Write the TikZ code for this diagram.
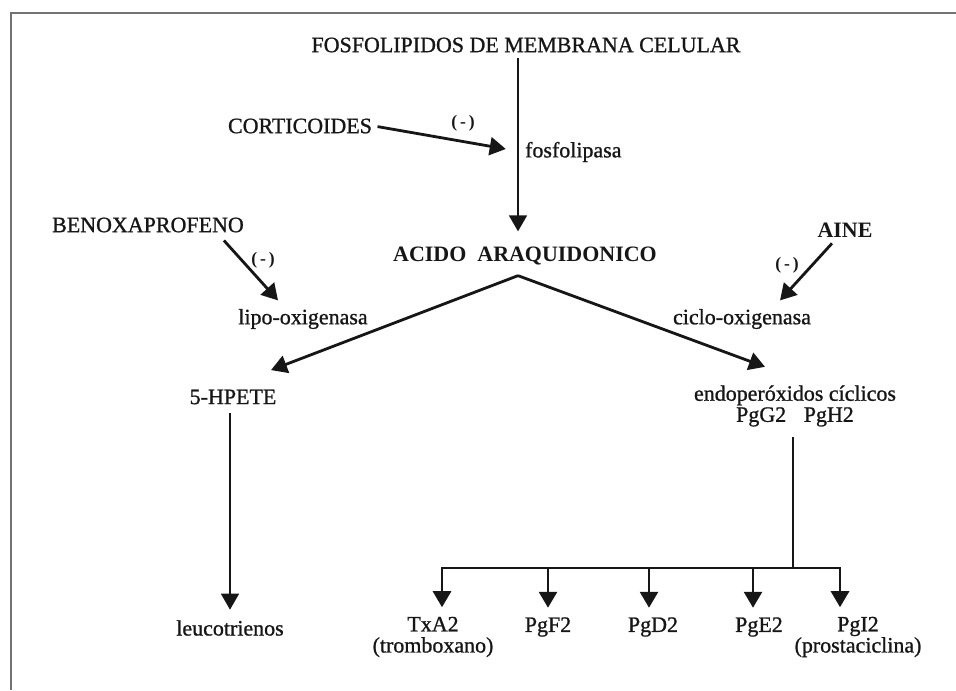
\documentclass[tikz,border=0pt]{standalone}
\usepackage{fontspec}
\setmainfont{Liberation Serif}[UprightFeatures={FakeBold=1}]
\usetikzlibrary{arrows.meta,positioning,calc}
\definecolor{AaInk}{RGB}{22,22,22}
\definecolor{AaFrame}{RGB}{115,115,115}
\tikzset{
  aa/label/.style={
    inner sep=1pt,
    align=center,
    text=AaInk,
    font=\fontsize{12.5}{12}\selectfont
  },
  aa/main/.style={
    aa/label,
    font=\fontsize{12.5}{12}\selectfont\bfseries
  },
  aa/minus/.style={inner sep=0pt, text=AaInk, font=\fontsize{10}{10}\selectfont\bfseries},
  aa/arrow/.style={-{Triangle[length=3.2mm,width=3.6mm]}, line width=1.6pt, draw=AaInk},
  aa/thinarrow/.style={-{Triangle[length=3.2mm,width=3.6mm]}, line width=1pt, draw=AaInk},
  aa/line/.style={line width=1.6pt, line cap=rect, draw=AaInk},
  aa/frame/.style={line width=1.6pt, draw=AaFrame}
}

\begin{document}
\begin{tikzpicture}[x=1cm,y=1cm]
  \useasboundingbox (0,0) rectangle (19.12,13.8);
  \draw[aa/frame] (0.22,0) -- (0.22,13.54) -- (19.12,13.54);

  % top of the cascade
  \node[aa/label] (fosfo) at (10.52,12.9) {FOSFOLIPIDOS DE MEMBRANA CELULAR};
  \node[aa/label] (corti) at (6.0,11.28) {CORTICOIDES};
  \node[aa/label,anchor=west] (fosfolipasa) at (10.46,10.76) {fosfolipasa};
  \node[aa/minus] (minus1) at (9.26,11.34) {(\,-\,)};
  \node[aa/main] (acido) at (10.5,8.68) {ACIDO\ \ ARAQUIDONICO};

  % inhibitors and enzymes
  \node[aa/label] (benox) at (2.96,9.3) {BENOXAPROFENO};
  \node[aa/main] (aine) at (16.9,9.2) {AINE};
  \node[aa/minus] (minus2) at (5.26,8.6) {(\,-\,)};
  \node[aa/minus] (minus3) at (15.74,8.5) {(\,-\,)};
  \node[aa/label] (lipo) at (6.06,7.42) {lipo-oxigenasa};
  \node[aa/label] (ciclo) at (14.84,7.42) {ciclo-oxigenasa};

  % products
  \node[aa/label] (hpete) at (4.66,5.86) {5-HPETE};
  \node[aa/label] (endo) at (15.9,5.68) {endoperóxidos cíclicos\\PgG2\hspace{0.8em}PgH2};
  \node[aa/label] (leuco) at (4.6,1.24) {leucotrienos};
  \node[aa/label] (txa) at (8.66,1.06) {TxA2\\(tromboxano)};
  \node[aa/label] (pgf) at (10.96,1.26) {PgF2};
  \node[aa/label] (pgd) at (13.06,1.26) {PgD2};
  \node[aa/label] (pge) at (15.18,1.26) {PgE2};
  \node[aa/label] (pgi) at (17.16,1.06) {PgI2\\(prostaciclina)};

  % connectors
  \coordinate (trunk) at ($(fosfo.south)+(-0.16,0)$);
  \draw[aa/thinarrow, shorten <=2pt, shorten >=0.27cm] (trunk) -- (trunk |- acido.north);
  \draw[aa/arrow, shorten <=2pt, shorten >=0.35cm] (corti.east) -- (fosfolipasa.west);
  \draw[aa/arrow] ([xshift=-0.44cm,yshift=-0.12cm]benox.south east) -- ([xshift=-0.5cm,yshift=0.13cm]lipo.north);
  \draw[aa/arrow] ([xshift=-0.26cm,yshift=-0.08cm]aine.south) -- ([xshift=0.76cm,yshift=0.13cm]ciclo.north);

  \coordinate (apex) at ([xshift=-0.14cm,yshift=-0.17cm]acido.south);
  \draw[aa/arrow] (apex) -- ([xshift=0.76cm,yshift=0.35cm]hpete.north);
  \draw[aa/arrow] (apex) -- ([xshift=-0.6cm,yshift=0.33cm]endo.north);

  \draw[aa/thinarrow, shorten <=0.14cm, shorten >=0.17cm] (leuco.north |- hpete.south) -- (leuco.north);

  \coordinate (bar) at (15.86,2.44);
  \draw[aa/line, line cap=butt, shorten <=0.17cm] (bar |- endo.south) -- (bar);
  \draw[aa/line] ($(txa.north |- bar)+(0.18,0)$) -- ($(pgi.north |- bar)+(-0.36,0)$);
  \foreach \n/\dx in {txa/0.18, pgf/0, pgd/-0.08, pge/-0.12, pgi/-0.36} {
    \coordinate (\n-top) at ($(\n.north |- bar)+(\dx,0)$);
    \draw[aa/arrow, shorten >=0.15cm] (\n-top) -- (\n-top |- \n.north);
  }
\end{tikzpicture}
\end{document}
